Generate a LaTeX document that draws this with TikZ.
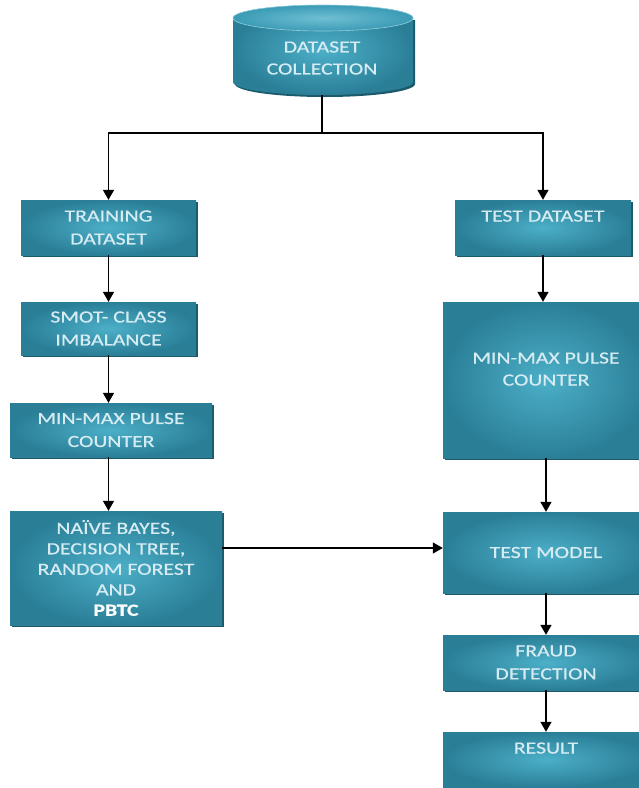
\documentclass[tikz,border=0pt]{standalone}
\usepackage{fontspec}
\setmainfont{Carlito}[FakeStretch=1.28, FakeBold=0.6]
\usetikzlibrary{arrows.meta,shadows}
\definecolor{tealout}{HTML}{2A7F97}
\definecolor{tealin}{HTML}{4CAFC8}
\definecolor{tealtop}{HTML}{3A9BB5}
\definecolor{tealshadow}{HTML}{1B5A6B}
\definecolor{boxtext}{HTML}{D6ECF2}
\begin{document}
\begin{tikzpicture}[x=1pt,y=-1pt,
  box/.style={rectangle, inner color=tealin, outer color=tealout, text=boxtext,
    font=\fontsize{17}{23}\selectfont, align=center, inner sep=0pt,
    general shadow={fill=tealshadow, shadow xshift=2pt, shadow yshift=-2pt}},
  arr/.style={-{Triangle[length=10pt,width=11pt]}, line width=1.4pt},
  ln/.style={line width=1.4pt}]
\useasboundingbox (0,0) rectangle (639,788);
\fill[white] (0,0) rectangle (639,788);

% cylinder
\fill[tealshadow] (235,20) -- (235,84) arc[start angle=180,end angle=360,x radius=90pt,y radius=13pt] -- (415,20) -- cycle;
\path[inner color=tealin, outer color=tealout] (233,18) -- (233,82)
  arc[start angle=180,end angle=360,x radius=90pt,y radius=13pt] -- (413,18)
  arc[start angle=0,end angle=180,x radius=90pt,y radius=13pt] -- cycle;
\path[inner color=tealin!80!white, outer color=tealtop, draw=tealin!60!white, line width=0.6pt] (323,18) ellipse[x radius=90pt, y radius=13pt];
\node[rectangle, minimum width=180pt, minimum height=74pt, inner sep=0pt, text=boxtext,
  font=\fontsize{17}{22}\selectfont, align=center] (dc) at (322,58) {DATASET\\COLLECTION};
\coordinate (fork) at (322,133);

% left column
\node[box, minimum width=175pt, minimum height=55pt] (train) at (108.5,227.5) {TRAINING\\DATASET};
\node[box, minimum width=175pt, minimum height=53pt] (smot) at (108.5,328.5) {SMOT- CLASS\\IMBALANCE};
\node[box, minimum width=202pt, minimum height=54pt] (mm1) at (111,430) {MIN-MAX PULSE\\COUNTER};
\node[box, minimum width=212pt, minimum height=114pt, font=\fontsize{17}{20.5}\selectfont] (naive) at (116,568)
  {NAÏVE BAYES,\\DECISION TREE,\\RANDOM FOREST\\AND\\{\bfseries\color{white}PBTC}};

% right column
\node[box, minimum width=176pt, minimum height=55pt] (test) at (543,227.5) {TEST DATASET\\\mbox{}};
\node[box, minimum width=206pt, minimum height=156pt, font=\fontsize{17}{22}\selectfont] (mm2) at (546,380) {MIN-MAX PULSE\\COUNTER\\\mbox{}};
\node[box, minimum width=206pt, minimum height=81pt] (tm) at (546,552.5) {TEST MODEL};
\node[box, minimum width=206pt, minimum height=55pt] (fraud) at (546,662.5) {FRAUD\\DETECTION};
\node[box, minimum width=206pt, minimum height=55pt] (result) at (546,759.5) {RESULT\\\mbox{}};

% connectors
\draw[ln] (dc.south) -- (fork);
\draw[arr] (fork) -| (train.north);
\draw[arr] (fork) -| (test.north);
\draw[arr] (train.south) -- (smot.north);
\draw[arr] (smot.south) -- (smot.south |- mm1.north);
\draw[arr] (mm1.south -| smot.south) -- (smot.south |- naive.north);
\coordinate (hy) at (0,548);
\draw[arr] (naive.east |- hy) -- (tm.west |- hy);
\draw[arr] (test.south) -- (test.south |- mm2.north);
\draw[arr] (mm2.south) -- (tm.north);
\draw[arr] (tm.south) -- (fraud.north);
\draw[arr] (fraud.south) -- (result.north);
\end{tikzpicture}
\end{document}
